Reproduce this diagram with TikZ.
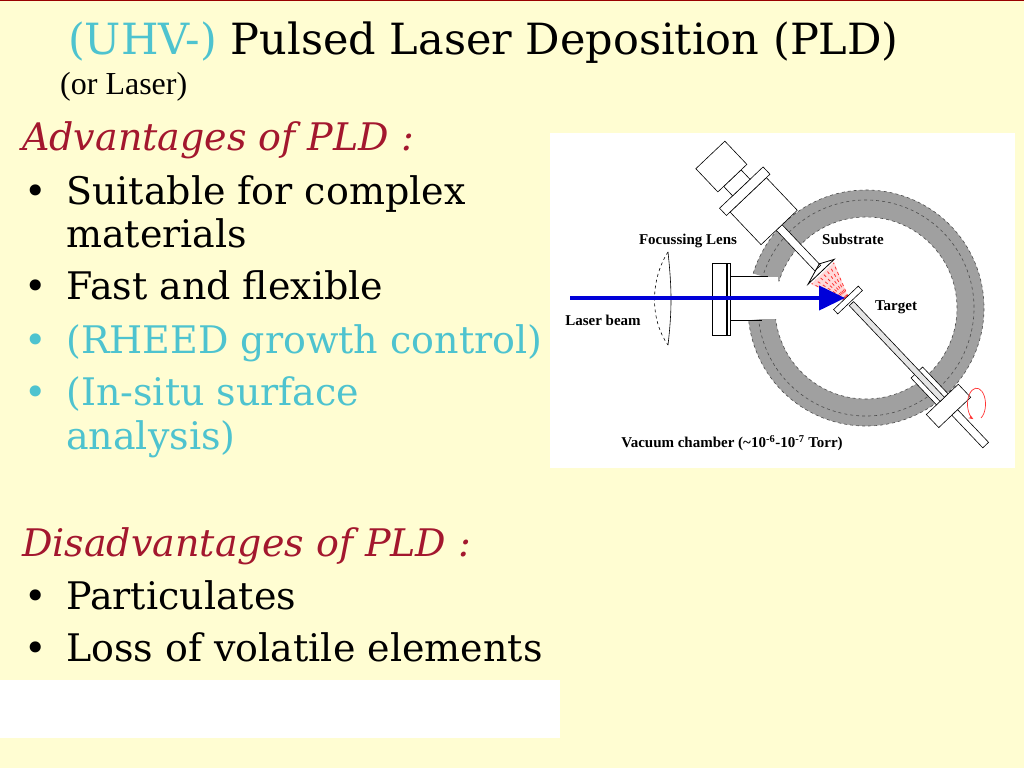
\documentclass[tikz,border=0pt]{standalone}
\usepackage{fontspec}
\setmainfont{DejaVu Serif}
\newfontfamily\tms{Liberation Serif}
\usetikzlibrary{arrows.meta}
\definecolor{bg}{HTML}{FFFDD2}
\definecolor{cy}{HTML}{4EC3CF}
\definecolor{dr}{HTML}{A3172E}
\definecolor{rg}{HTML}{A0A0A0}
\tikzset{
 body/.style={anchor=base west,inner sep=0pt,font=\fontsize{38}{38}\selectfont},
 head/.style={body,text=dr,font=\fontsize{38}{38}\selectfont\itshape},
 lbl/.style={inner sep=0pt,font=\tms\fontsize{15}{15}\selectfont\bfseries},
 part/.style={draw=black,fill=white,line width=0.6pt},
 plume/.style={red!80,dashed,line width=0.8pt}
}
\begin{document}
\begin{tikzpicture}[x=1pt,y=-1pt]
\useasboundingbox (0,0) rectangle (1024,768);
\fill[bg] (0,0) rectangle (1024,768);
\draw[red!60!black,line width=1pt] (0,0.5) -- (1024,0.5);
\fill[white] (0,680) rectangle (560,738);
% text
\node[body,font=\fontsize{43}{43}\selectfont] (title) at (68,55) {\textcolor{cy}{(UHV-)} Pulsed Laser Deposition (PLD)};
\node[anchor=base west,inner sep=0pt,font=\tms\fontsize{32}{32}\selectfont] (orl) at (60,94) {(or Laser)};
\node[head] (adv) at (22,150) {Advantages of PLD :};
\node[body] (b1) at (24,204) {•};
\node[body] (t1) at (66,204) {Suitable for complex};
\node[body] (t1b) at (66,247) {materials};
\node[body] (b2) at (24,299) {•};
\node[body] (t2) at (66,299) {Fast and flexible};
\node[body,text=cy] (b3) at (24,353) {•};
\node[body,text=cy] (t3) at (66,353) {(RHEED growth control)};
\node[body,text=cy] (b4) at (24,405) {•};
\node[body,text=cy] (t4) at (66,405) {(In-situ surface};
\node[body,text=cy] (t4b) at (66,449) {analysis)};
\node[head] (dis) at (22,556) {Disadvantages of PLD :};
\node[body] (b5) at (24,609) {•};
\node[body] (t5) at (66,609) {Particulates};
\node[body] (b6) at (24,661) {•};
\node[body] (t6) at (66,661) {Loss of volatile elements};
% diagram
\fill[white] (550,133) rectangle (1015,468);
\begin{scope}[shift={(866,308)}]
 \fill[rg] (197:118) arc (197:534:118) -- (534:91) arc (534:197:91) -- cycle;
 \draw[dashed,black!70,line width=0.6pt] (197:118) arc (197:534:118);
 \draw[dashed,black!70,line width=0.6pt] (199:108) arc (199:532:108);
 \draw[dashed,black!70,line width=0.6pt] (534:91) arc (534:197:91);
\end{scope}
% tube
\draw[line width=0.7pt] (730,276) -- (768,276);
\draw[line width=0.7pt] (730,320) -- (762,320);
\fill[white] (740,277) rectangle (778,319);
% lens
\draw[dashed,line width=0.6pt] (668,252) .. controls (650,280) and (650,320) .. (668,345);
\draw[line width=0.6pt] (668,252) .. controls (672,290) and (672,310) .. (668,345);
% window flange
\node[part,minimum width=18pt,minimum height=72pt,inner sep=0pt] (win) at (721,299) {};
\draw[line width=2pt] (727,263) -- (727,335);
% arm axis
\begin{scope}[shift={(848,300)},rotate=-46.5]
 \draw[part] (100,-8) rectangle (137,8);
 \draw[part] (137,-22) rectangle (155,22);
 \draw[part] (155,-4) rectangle (200,4);
 \draw[part,fill=white!90!black] (5,-3) rectangle (137,3);
 \draw[part] (-100,-4) rectangle (-44,4);
 \draw[part] (-145,-25) rectangle (-100,25);
 \draw[part] (-155,-30) rectangle (-145,30);
 \draw[part] (-168,-12) rectangle (-155,12);
 \draw[part] (-200,-20) rectangle (-168,20);
 \coordinate (tg) at (0,0);
 \coordinate (sub) at (-39,0);
 \fill[red!15] (-2,-2) -- (-37,-16) -- (-37,16) -- (-2,2) -- cycle;
 \foreach \v in {-15,-10,-5,0,5,10,15} \draw[plume] (-2,\v*0.15) -- (-37,\v);
 \draw[line width=0.8pt] (-39,-18) -- (-39,18) -- (-46,-4) -- cycle;
 \draw[part] (-3,-17) rectangle (3,17);
\end{scope}
% laser beam
\coordinate (ls) at (570,298);
\draw[blue!85!black,line width=4pt,-{Triangle[length=26pt,width=24pt]}] (ls) -- (845,298);
% rotation arrow
\draw[red!80,line width=0.7pt,-{Stealth[length=5pt]}] (981,418) arc (60:-250:9 and 16);
% labels
\node[lbl] (fl) at (688,241) {Focussing Lens};
\node[lbl] (sl) at (853,239) {Substrate};
\node[lbl] (tl) at (896,307) {Target};
\node[lbl] (lb) at (603,320) {Laser beam};
\node[lbl] (vc) at (732,443) {Vacuum chamber (\textasciitilde10\textsuperscript{-6}-10\textsuperscript{-7} Torr)};
\end{tikzpicture}
\end{document}
